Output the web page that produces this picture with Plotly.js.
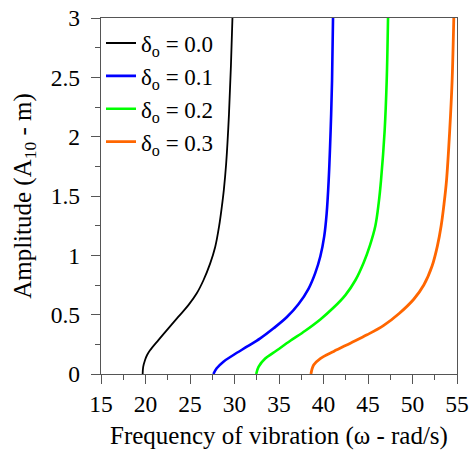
<!DOCTYPE html>
<html>
<head>
<meta charset="utf-8">
<script src="https://cdn.plot.ly/plotly-3.0.1.min.js"></script>
<style>
html,body{margin:0;padding:0;background:#fff;}
#chart{width:474px;height:452px;}
</style>
</head>
<body>
<div id="chart"></div>
<script>
// Series names
const seriesNames = ["δ<sub>o</sub> = 0.0", "δ<sub>o</sub> = 0.1", "δ<sub>o</sub> = 0.2", "δ<sub>o</sub> = 0.3"];

// δo = 0.0
const freq0 = [19.68, 19.74, 19.95, 20.18, 20.51, 21.45, 22.57, 23.70, 24.82, 25.76, 26.51, 27.26, 27.83, 28.28, 28.56, 28.80, 29.06, 29.38, 29.60, 29.77];
const amp0  = [0, 0.06, 0.118, 0.16, 0.20, 0.286, 0.385, 0.483, 0.58, 0.68, 0.79, 0.93, 1.07, 1.25, 1.40, 1.55, 1.77, 2.19, 2.60, 3.0];

// δo = 0.1
const freq1 = [27.63, 28.0, 28.76, 29.88, 31.39, 32.89, 34.39, 35.89, 37.2, 38.33, 39.07, 39.64, 40.08, 40.35, 40.58, 40.80, 40.96, 41.07];
const amp1  = [0, 0.048, 0.104, 0.16, 0.23, 0.30, 0.385, 0.48, 0.59, 0.72, 0.85, 0.99, 1.16, 1.35, 1.63, 2.05, 2.47, 3.0];

// δo = 0.2
const freq2 = [32.44, 32.70, 33.45, 34.77, 36.27, 37.95, 39.64, 41.14, 42.46, 43.58, 44.52, 45.20, 45.83, 46.2, 46.46, 46.87, 47.1, 47.25];
const amp2  = [0, 0.06, 0.13, 0.20, 0.28, 0.365, 0.46, 0.56, 0.665, 0.79, 0.94, 1.08, 1.25, 1.44, 1.63, 2.05, 2.47, 3.0];

// δo = 0.3
const freq3 = [38.59, 38.89, 39.64, 41.14, 43.02, 44.89, 46.77, 48.5, 50.14, 51.27, 52.2, 52.80, 53.22, 53.52, 53.82, 54.18, 54.45, 54.64];
const amp3  = [0, 0.076, 0.13, 0.19, 0.26, 0.33, 0.41, 0.51, 0.63, 0.75, 0.91, 1.08, 1.25, 1.42, 1.63, 2.05, 2.47, 3.0];

// Tick values
const xTicks = [15, 20, 25, 30, 35, 40, 45, 50, 55];
const yTicks = [0, 0.5, 1, 1.5, 2, 2.5, 3];

const colors = ["#000000", "#0000ff", "#00ff00", "#ff6600"];
const widths = [1.8, 2.6, 2.6, 2.8];
const xs = [freq0, freq1, freq2, freq3];
const ys = [amp0, amp1, amp2, amp3];

const traces = xs.map((x, i) => ({
  x: x, y: ys[i], type: "scatter", mode: "lines", name: seriesNames[i],
  line: {color: colors[i], width: widths[i], shape: "spline", smoothing: 1.0, simplify: false}
}));

const fontFam = "Liberation Serif";
const layout = {
  width: 474, height: 452,
  margin: {l: 101, r: 17, t: 18, b: 78},
  paper_bgcolor: "#fff", plot_bgcolor: "#fff",
  font: {family: fontFam, size: 23, color: "#000"},
  showlegend: true,
  legend: {x: 0.0, y: 0.99, xanchor: "left", yanchor: "top", bgcolor: "rgba(0,0,0,0)", borderwidth: 0,
           font: {family: fontFam, size: 23, color: "#000"}},
  xaxis: {
    range: [15, 55], tickvals: xTicks, ticktext: xTicks.map(String),
    ticks: "outside", ticklen: 9, tickwidth: 1, tickcolor: "#555",
    minor: {dtick: 2.5, tick0: 15, ticks: "outside", ticklen: 5, tickcolor: "#555", showgrid: false},
    showline: true, linecolor: "#555", linewidth: 1.2, mirror: true,
    showgrid: false, zeroline: false, automargin: false,
    tickfont: {family: fontFam, size: 23.5, color: "#000"},
    title: {text: "Frequency of vibration (ω - rad/s)", font: {family: fontFam, size: 25, color: "#000"}, standoff: 10}
  },
  yaxis: {
    range: [0, 3], tickvals: yTicks, ticktext: yTicks.map(String),
    ticks: "outside", ticklen: 9, tickwidth: 1, tickcolor: "#555",
    minor: {dtick: 0.25, tick0: 0, ticks: "outside", ticklen: 5, tickcolor: "#555", showgrid: false},
    showline: true, linecolor: "#555", linewidth: 1.2, mirror: true,
    showgrid: false, zeroline: false, automargin: false,
    ticklabelstandoff: 6,
    tickfont: {family: fontFam, size: 23.5, color: "#000"},
    title: {text: "Amplitude (A<sub>10</sub> - m)", font: {family: fontFam, size: 25, color: "#000"}, standoff: 12}
  }
};

Plotly.newPlot("chart", traces, layout, {displayModeBar: false, staticPlot: true});
</script>
</body>
</html>
